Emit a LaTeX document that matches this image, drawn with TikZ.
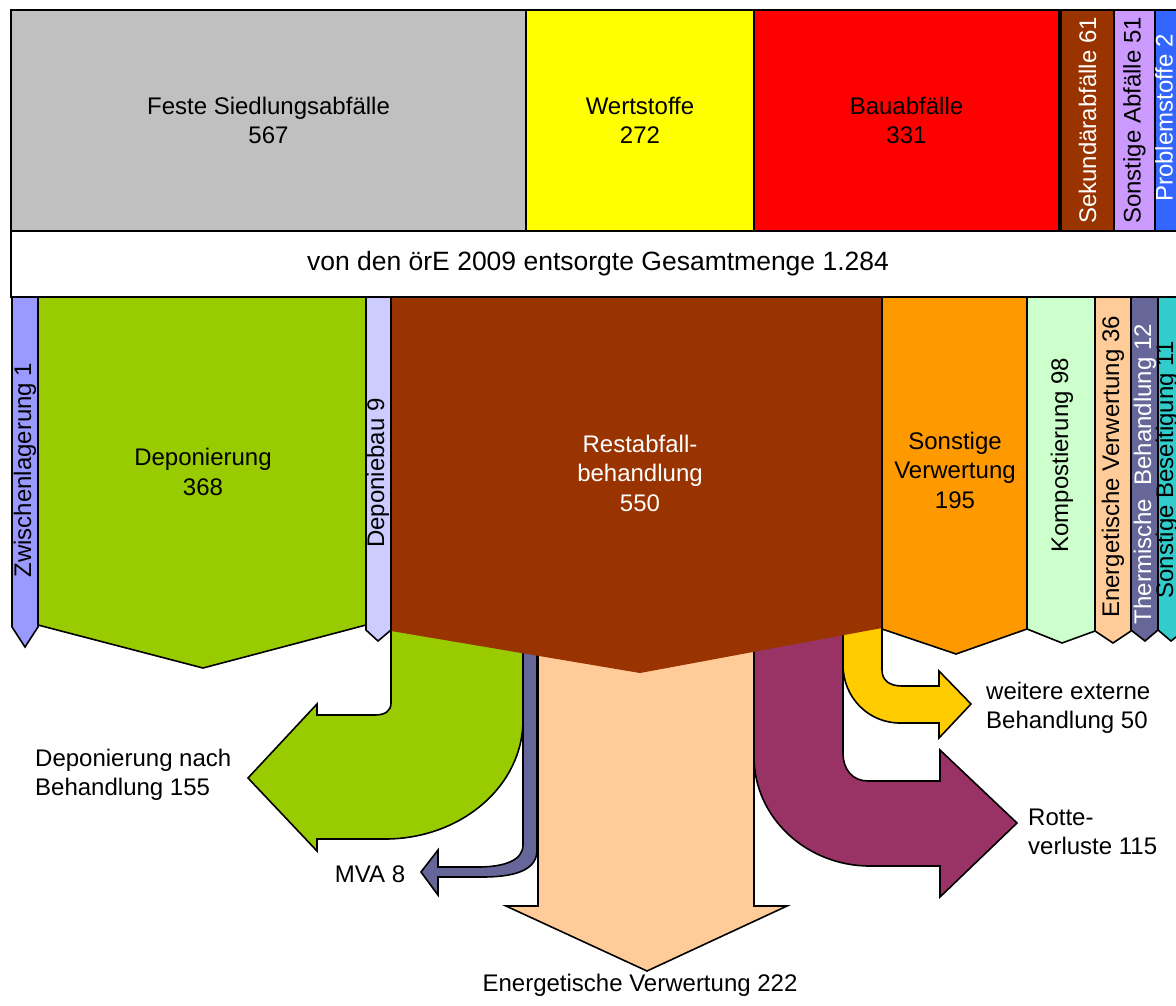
\documentclass[tikz,border=0pt]{standalone}
\usepackage{fontspec}
\setmainfont{Liberation Sans}
\usetikzlibrary{positioning}

\definecolor{grau}{HTML}{C0C0C0}
\definecolor{gelb}{HTML}{FFFF00}
\definecolor{rot}{HTML}{FF0000}
\definecolor{braun}{HTML}{993300}
\definecolor{lila}{HTML}{CC99FF}
\definecolor{blau}{HTML}{3366FF}
\definecolor{violett}{HTML}{9999FF}
\definecolor{gruen}{HTML}{99CC00}
\definecolor{hellblau}{HTML}{CCCCFF}
\definecolor{orange}{HTML}{FF9900}
\definecolor{mint}{HTML}{CCFFCC}
\definecolor{pfirsich}{HTML}{FFCC99}
\definecolor{graublau}{HTML}{666699}
\definecolor{tuerkis}{HTML}{33CCCC}
\definecolor{gold}{HTML}{FFCC00}
\definecolor{weinrot}{HTML}{993366}

\tikzset{
  box/.style={draw, line width=1.6pt, inner sep=0pt, outer sep=0pt,
    minimum height=221pt, align=center},
  band/.style={draw, fill=white, line width=1.6pt, inner sep=0pt, outer sep=0pt,
    minimum height=66pt, minimum width=1174pt, align=center,
    font=\fontsize{26.5}{32}\selectfont},
  flow/.style={draw, line width=1.6pt, line join=miter},
  txt/.style={align=center, inner sep=0pt},
  vtxt/.style={rotate=90, inner sep=0pt}
}

\begin{document}
\begin{tikzpicture}[x=1pt, y=-1pt, font=\fontsize{24}{29.5}\selectfont]
  \fill[white] (0,0) rectangle (1176,1005);
  \useasboundingbox (0,0) rectangle (1176,1005);
  \clip (0,0) rectangle (1176,1005);

  % Herkunft
  \node[box, fill=grau, minimum width=515pt, anchor=north west] (feste) at (11,10) {Feste Siedlungsabfälle\\567};
  \node[box, fill=gelb, minimum width=228pt] (wert)      [right=0pt of feste]     {Wertstoffe\\272};
  \node[box, fill=rot, minimum width=305pt]  (bau)       [right=0pt of wert]      {Bauabfälle\\331};
  \node[box, fill=braun, minimum width=53pt, text=white] (sekundaer) [right=2pt of bau] {\rotatebox{90}{Sekundärabfälle 61}};
  \node[box, fill=lila, minimum width=41pt]  (sonstab)   [right=0pt of sekundaer] {\rotatebox{90}{Sonstige Abfälle 51}};
  \node[box, fill=blau, minimum width=30pt, text=white] (problem) [right=0pt of sonstab] {};
  \node[vtxt, text=white] (problemtxt) at (1164,118) {Problemstoffe 2};

  % Stroeme aus der Restabfallbehandlung
  \draw[flow, fill=gruen] (391,600) -- (391,703) .. controls (391,711) and (385,715) .. (375,715)
    -- (317,715) -- (317,704) -- (248,778) -- (317,851) -- (317,839) -- (385,839)
    .. controls (461,839) and (523,786) .. (523,720) -- (523,600) -- cycle;
  \draw[flow, fill=graublau] (523,600) -- (523,845) .. controls (523,860) and (505,867) .. (478,867)
    -- (438,867) -- (438,850) -- (421,872) -- (438,895) -- (438,877) -- (482,877)
    .. controls (520,877) and (537,868) .. (537,850) -- (537,600) -- cycle;
  \draw[flow, fill=pfirsich] (538,600) -- (538,906) -- (506,906) -- (647,971) -- (787,906)
    -- (754,906) -- (754,600) -- cycle;
  \draw[flow, fill=weinrot] (754,600) -- (754,757) .. controls (754,817) and (806,866) .. (870,866)
    -- (940,866) -- (940,897) -- (1017,823) -- (940,750) -- (940,781) -- (868,781)
    .. controls (853,781) and (843,770) .. (843,753) -- (843,600) -- cycle;
  \draw[flow, fill=gold] (843,600) -- (843,665) .. controls (843,697) and (868,723) .. (900,723)
    -- (939,723) -- (939,738) -- (971,704) -- (939,671) -- (939,686) -- (902,686)
    .. controls (889,686) and (882,680) .. (882,670) -- (882,600) -- cycle;

  % Verbleib
  \fill[braun] (391,297) -- (882,297) -- (882,628) -- (640,673) -- (391,631) -- cycle;
  \draw[flow, fill=violett]  (12,297) -- (38,297) -- (38,627) -- (25,647) -- (12,627) -- cycle;
  \draw[flow, fill=gruen]    (38,297) -- (366,297) -- (366,625) -- (203,668) -- (38,625) -- cycle;
  \draw[flow, fill=hellblau] (366,297) -- (391,297) -- (391,630) -- (378,641) -- (366,630) -- cycle;
  \draw[flow, fill=orange]   (882,297) -- (1027,297) -- (1027,629) -- (956,654) -- (882,629) -- cycle;
  \draw[flow, fill=mint]     (1027,297) -- (1095,297) -- (1095,631) -- (1062,643) -- (1027,629) -- cycle;
  \draw[flow, fill=pfirsich] (1095,297) -- (1131,297) -- (1131,631) -- (1113,643) -- (1095,631) -- cycle;
  \draw[flow, fill=graublau] (1131,297) -- (1158,297) -- (1158,630) -- (1145,641) -- (1131,630) -- cycle;
  \draw[flow, fill=tuerkis]  (1158,297) -- (1185,297) -- (1185,630) -- (1171,641) -- (1158,630) -- cycle;

  \node[band, anchor=north west] (gesamt) at (11,231) {von den örE 2009 entsorgte Gesamtmenge 1.284};

  \node[vtxt] (zwischen) at (25,470) {Zwischenlagerung 1};
  \node[txt] (deponie) at (203,472) {Deponierung\\368};
  \node[vtxt] (depbau) at (378,473) {Deponiebau 9};
  \node[txt, text=white] (rest) at (640,473) {Restabfall-\\behandlung\\550};
  \node[txt] (sonstverw) at (955,470) {Sonstige\\Verwertung\\195};
  \node[vtxt] (kompost) at (1062,455) {Kompostierung 98};
  \node[vtxt] (energie) at (1113,467) {Energetische Verwertung 36};
  \node[vtxt, text=white] (thermisch) at (1145,474) {Thermische\ \ Behandlung 12};
  \node[vtxt] (beseitig) at (1167,470) {Sonstige Beseitigung 11};

  \node[txt, align=left, anchor=west] (depnach) at (35,775) {Deponierung nach\\Behandlung 155};
  \node[txt] (mva) at (370,874) {MVA 8};
  \node[txt] (energverw) at (640,985) {Energetische Verwertung 222};
  \node[txt, align=left, anchor=west] (extern) at (986,708) {weitere externe\\Behandlung 50};
  \node[txt, align=left, anchor=west] (rotte) at (1028,832) {Rotte-\\verluste 115};
\end{tikzpicture}
\end{document}
